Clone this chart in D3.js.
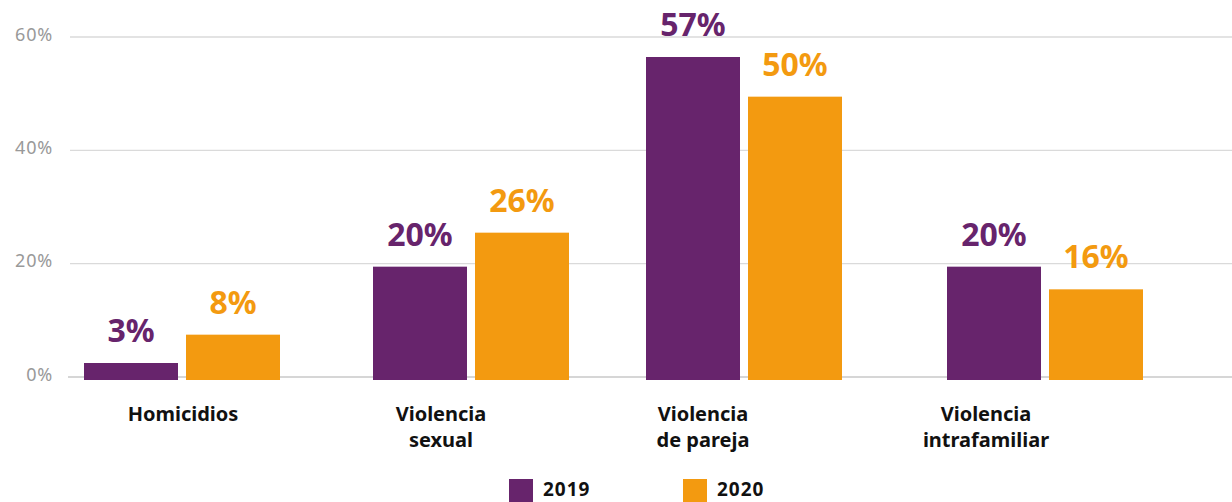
<!DOCTYPE html>
<html>
<head>
<meta charset="utf-8">
<script src="https://cdn.jsdelivr.net/npm/d3@7"></script>
<style>
  html, body { margin: 0; padding: 0; background: #fff; }
  svg { display: block; }
  text { font-family: "Noto Sans", "DejaVu Sans", sans-serif; }
</style>
</head>
<body>
<svg id="chart" width="1232" height="502"></svg>
<script>
// ---- data ----
const categories = ["Homicidios", "Violencia\nsexual", "Violencia\nde pareja", "Violencia\nintrafamiliar"];
const series = ["2019", "2020"];
const values2019 = [3, 20, 57, 20];
const values2020 = [8, 26, 50, 16];
const yTicks = [0, 20, 40, 60];

// ---- layout (not data) ----
const groupLeft = [84, 373, 646, 947];
const labelShift = [1, -30, -41, -59];
const colors = { "2019": "#67246c", "2020": "#f39a10" };

const svg = d3.select("#chart");
const y = d3.scaleLinear().domain([0, 60]).range([380, 40]);
const gx = d3.scaleOrdinal().domain(categories).range(groupLeft);
const inner = d3.scaleBand().domain(series).range([0, 196]).paddingInner(8 / 102);
const color = d3.scaleOrdinal().domain(series).range([colors["2019"], colors["2020"]]);

// gridlines
const grid = svg.append("g");
grid.selectAll("line").data(yTicks).join("line")
  .attr("x1", d => d === 0 ? 68 : 70)
  .attr("x2", 1232)
  .attr("y1", d => y(d) - 3)
  .attr("y2", d => y(d) - 3)
  .attr("stroke", d => d === 0 ? "#d6d6d6" : "#dadada")
  .attr("stroke-width", d => d === 0 ? 2 : 1.3);

grid.selectAll("text").data(yTicks).join("text")
  .attr("x", 53)
  .attr("y", d => y(d) + 0.5)
  .attr("text-anchor", "end")
  .attr("fill", "#999")
  .attr("font-size", 18)
  .attr("letter-spacing", 0.8)
  .text(d => d + "%");

// bars
const rows = categories.map((c, i) => ({ cat: c, vals: [values2019[i], values2020[i]] }));
const groups = svg.selectAll("g.grp").data(rows).join("g")
  .attr("class", "grp")
  .attr("transform", d => `translate(${gx(d.cat)},0)`);

groups.selectAll("rect").data(d => series.map((s, j) => ({ s, v: d.vals[j] }))).join("rect")
  .attr("x", d => inner(d.s))
  .attr("width", inner.bandwidth())
  .attr("y", d => y(d.v))
  .attr("height", d => y(0) - y(d.v))
  .attr("fill", d => color(d.s));

groups.selectAll("text.val").data(d => series.map((s, j) => ({ s, v: d.vals[j] }))).join("text")
  .attr("class", "val")
  .attr("x", d => inner(d.s) + inner.bandwidth() / 2)
  .attr("y", d => y(d.v) - 21)
  .attr("text-anchor", "middle")
  .attr("font-size", 32)
  .attr("font-weight", 700)
  .attr("fill", d => color(d.s))
  .text(d => d3.format(".0f")(d.v) + "%");

// category labels
const catLabels = svg.selectAll("text.cat").data(categories).join("text")
  .attr("class", "cat")
  .attr("text-anchor", "middle")
  .attr("font-size", 20)
  .attr("font-weight", 700)
  .attr("fill", "#111");
catLabels.each(function (d, i) {
  const cx = gx(d) + 98 + labelShift[i];
  d3.select(this).selectAll("tspan").data(d.split("\n")).join("tspan")
    .attr("x", cx)
    .attr("y", (t, k) => 421 + k * 26)
    .text(t => t);
});

// legend
const legendX = [509, 683];
const leg = svg.selectAll("g.leg").data(series).join("g")
  .attr("class", "leg")
  .attr("transform", (d, i) => `translate(${legendX[i]},479)`);
leg.append("rect").attr("width", 24).attr("height", 23).attr("fill", d => color(d));
leg.append("text").attr("x", 34).attr("y", 17)
  .attr("font-size", 19).attr("font-weight", 700).attr("letter-spacing", 1).attr("fill", "#111")
  .text(d => d);
</script>
</body>
</html>
